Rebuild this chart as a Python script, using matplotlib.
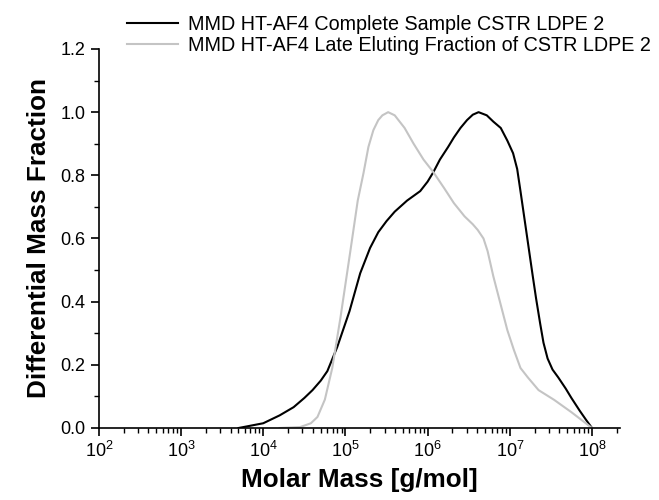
import matplotlib.pyplot as plt
from matplotlib.ticker import LogLocator, MultipleLocator, LogFormatterMathtext
import numpy as np

plt.rcParams['font.family'] = ['Liberation Sans', 'DejaVu Sans']

# log10 of molar mass and differential mass fraction
complete_logM = [3.70, 4.00, 4.20, 4.37, 4.50, 4.60, 4.70, 4.78, 4.90, 5.05, 5.18, 5.30, 5.40,
                 5.50, 5.60, 5.75, 5.91, 6.00, 6.07, 6.15, 6.25, 6.32, 6.40, 6.48, 6.55, 6.62,
                 6.72, 6.80, 6.89, 6.97, 7.04, 7.09, 7.13, 7.18, 7.23, 7.28, 7.32, 7.37, 7.41,
                 7.46, 7.52, 7.59, 7.68, 7.75, 7.85, 7.93, 8.00]
complete_val = [0.0, 0.015, 0.04, 0.066, 0.095, 0.12, 0.15, 0.18, 0.256, 0.37, 0.49, 0.57, 0.62,
                0.655, 0.685, 0.72, 0.75, 0.78, 0.81, 0.85, 0.89, 0.92, 0.95, 0.975, 0.992, 1.0,
                0.99, 0.97, 0.95, 0.91, 0.87, 0.82, 0.75, 0.66, 0.57, 0.48, 0.41, 0.33, 0.27,
                0.22, 0.185, 0.16, 0.125, 0.095, 0.055, 0.025, 0.0]

late_logM = [4.20, 4.45, 4.58, 4.66, 4.75, 4.84, 4.94, 5.06, 5.15, 5.22, 5.28, 5.34, 5.40,
             5.45, 5.52, 5.60, 5.72, 5.83, 5.95, 6.07, 6.20, 6.32, 6.45, 6.55, 6.61, 6.68,
             6.73, 6.80, 6.89, 6.97, 7.05, 7.13, 7.22, 7.35, 7.54, 7.75, 8.00]
late_val = [0.0, 0.003, 0.015, 0.035, 0.09, 0.19, 0.35, 0.56, 0.72, 0.807, 0.89, 0.943, 0.975,
            0.99, 1.0, 0.99, 0.95, 0.90, 0.85, 0.81, 0.76, 0.712, 0.67, 0.645, 0.627, 0.60,
            0.56, 0.48, 0.39, 0.31, 0.247, 0.19, 0.16, 0.12, 0.089, 0.05, 0.0]

labels = ['MMD HT-AF4 Complete Sample CSTR LDPE 2',
          'MMD HT-AF4 Late Eluting Fraction of CSTR LDPE 2']

fig = plt.figure(figsize=(6.59, 5.00), dpi=100)
ax = fig.add_axes([0.150, 0.144, 0.791, 0.758])

l1, = ax.plot(10 ** np.array(complete_logM), complete_val, color='black', lw=1.5)
l2, = ax.plot(10 ** np.array(late_logM), late_val, color='#c4c4c4', lw=1.5)

ax.set_xscale('log')
ax.set_xlim(1e2, 2.2e8)
ax.set_ylim(0, 1.2)
ax.xaxis.set_major_locator(LogLocator(base=10, numticks=10))
ax.xaxis.set_minor_locator(LogLocator(base=10, subs=np.arange(2, 10), numticks=20))
ax.xaxis.set_major_formatter(LogFormatterMathtext())
ax.yaxis.set_major_locator(MultipleLocator(0.2))
ax.yaxis.set_minor_locator(MultipleLocator(0.1))
ax.yaxis.set_major_formatter(plt.FuncFormatter(lambda v, p: '%.1f' % v))

for s in ['top', 'right']:
    ax.spines[s].set_visible(False)
ax.spines['left'].set_linewidth(1.2)
ax.spines['bottom'].set_linewidth(1.2)
ax.tick_params(which='major', direction='out', length=6, width=1.2, labelsize=13)
ax.tick_params(which='minor', direction='out', length=3.5, width=1.0)

ax.set_xlabel('Molar Mass [g/mol]', fontsize=18.8, fontweight='bold', labelpad=5)
ax.set_ylabel('Differential Mass Fraction', fontsize=18.8, fontweight='bold', labelpad=7)

fig.legend([l1, l2], labels, loc='upper left', bbox_to_anchor=(0.175, 0.994), frameon=False,
           fontsize=14.2, handlelength=2.6, handletextpad=0.5, labelspacing=0.1,
           borderaxespad=0.2)

fig.savefig('out.png', dpi=100)
